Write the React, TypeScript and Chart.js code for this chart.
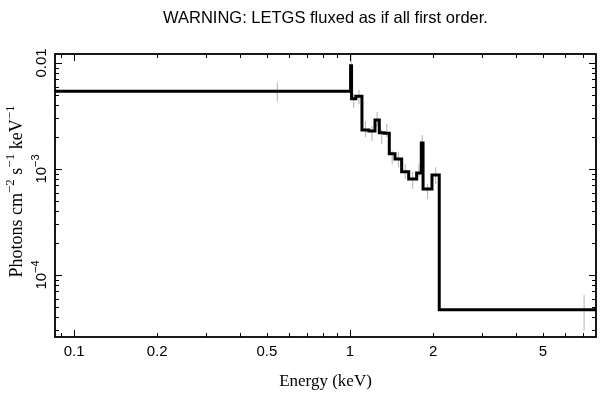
import React, { useEffect, useRef } from "react";
import { Chart, registerables } from "chart.js";

Chart.register(...registerables);

// ---- data (keV bin edges, flux in Photons cm^-2 s^-1 keV^-1) ----
const binEdges = [
  0.0853, 1.005, 1.013, 1.05, 1.105, 1.17, 1.232, 1.277, 1.33, 1.388, 1.456,
  1.539, 1.632, 1.744, 1.813, 1.84, 1.982, 2.106, 12.0,
];
const flux = [
  5.4e-3, 9.4e-3, 4.6e-3, 4.85e-3, 2.33e-3, 2.28e-3, 2.9e-3, 2.2e-3, 2.17e-3,
  1.39e-3, 1.24e-3, 9.4e-4, 8.05e-4, 9.16e-4, 1.76e-3, 6.47e-4, 8.78e-4, 4.71e-5,
];
const fluxLow = [
  4.31e-3, 7.4e-3, 3.74e-3, 4.1e-3, 2.0e-3, 1.84e-3, 2.49e-3, 1.72e-3, 2.0e-3,
  1.11e-3, 1.04e-3, 8.05e-4, 6.5e-4, 8.4e-4, 1.48e-3, 5.22e-4, 7.2e-4, 3.0e-5,
];
const fluxHigh = [
  6.58e-3, 1.3e-2, 5.18e-3, 5.56e-3, 2.84e-3, 2.55e-3, 3.45e-3, 2.38e-3, 2.66e-3,
  1.48e-3, 1.45e-3, 1.11e-3, 9.4e-4, 1.11e-3, 2.09e-3, 7.21e-4, 1.04e-3, 6.5e-5,
];

const xTickValues = [0.1, 0.2, 0.5, 1, 2, 5];
const xTickLabels = ["0.1", "0.2", "0.5", "1", "2", "5"];
const yTickValues = [0.01, 1e-3, 1e-4];
const yTickLabels: { t: string; sup?: boolean }[][] = [
  [{ t: "0.01" }],
  [{ t: "10" }, { t: "\u22123", sup: true }],
  [{ t: "10" }, { t: "\u22124", sup: true }],
];

const titleText = "WARNING: LETGS fluxed as if all first order.";
const xTitle = "Energy (keV)";
const yTitle: { t: string; sup?: boolean }[] = [
  { t: "Photons cm" },
  { t: "\u22122", sup: true },
  { t: " s" },
  { t: "\u22121", sup: true },
  { t: " keV" },
  { t: "\u22121", sup: true },
];

const X_MIN = 0.0853;
const X_MAX = 7.79;
const Y_MIN = 2.6e-5;
const Y_MAX = 0.01216;

const SANS = '"Liberation Sans", Arial, Helvetica, sans-serif';
const SERIF = '"Liberation Serif", "Times New Roman", Times, serif';

function drawRich(
  ctx: CanvasRenderingContext2D,
  segs: { t: string; sup?: boolean }[],
  cx: number,
  cy: number,
  size: number,
  family: string,
  rotate: boolean
) {
  const supSize = Math.round(size * 0.72);
  ctx.save();
  ctx.translate(cx, cy);
  if (rotate) ctx.rotate(-Math.PI / 2);
  ctx.textBaseline = "middle";
  ctx.textAlign = "left";
  let total = 0;
  const widths = segs.map((s) => {
    ctx.font = `${s.sup ? supSize : size}px ${family}`;
    const w = ctx.measureText(s.t).width;
    total += w;
    return w;
  });
  let x = -total / 2;
  segs.forEach((s, i) => {
    ctx.font = `${s.sup ? supSize : size}px ${family}`;
    ctx.fillText(s.t, x, s.sup ? -size * 0.38 : 0);
    x += widths[i];
  });
  ctx.restore();
}

const framePlugin = {
  id: "frame",
  afterDraw(chart: any) {
    const { ctx, chartArea: a, scales } = chart;
    const xs = scales.x;
    const ys = scales.y;
    ctx.save();
    ctx.strokeStyle = "#000";
    ctx.fillStyle = "#000";
    ctx.lineWidth = 1;
    // x ticks (top & bottom, inward)
    for (let k = -2; k <= 1; k++) {
      for (let m = 1; m <= 9; m++) {
        const v = m * Math.pow(10, k);
        if (v < X_MIN || v > X_MAX) continue;
        const px = Math.round(xs.getPixelForValue(v)) + 0.5;
        const len = m === 1 ? 7 : 4;
        ctx.beginPath();
        ctx.moveTo(px, a.bottom);
        ctx.lineTo(px, a.bottom - len);
        ctx.moveTo(px, a.top);
        ctx.lineTo(px, a.top + len);
        ctx.stroke();
      }
    }
    // y ticks (left & right, inward)
    for (let k = -5; k <= -1; k++) {
      for (let m = 1; m <= 9; m++) {
        const v = m * Math.pow(10, k);
        if (v < Y_MIN || v > Y_MAX) continue;
        const py = Math.round(ys.getPixelForValue(v)) + 0.5;
        const len = m === 1 ? 7 : 4;
        ctx.beginPath();
        ctx.moveTo(a.left, py);
        ctx.lineTo(a.left + len, py);
        ctx.moveTo(a.right, py);
        ctx.lineTo(a.right - len, py);
        ctx.stroke();
      }
    }
    // frame
    ctx.lineWidth = 1.8;
    ctx.strokeRect(a.left, a.top, a.right - a.left, a.bottom - a.top);

    // x tick labels
    ctx.font = `15px ${SANS}`;
    ctx.textAlign = "center";
    ctx.textBaseline = "middle";
    xTickValues.forEach((v, i) => {
      ctx.fillText(xTickLabels[i], xs.getPixelForValue(v), a.bottom + 15);
    });
    // y tick labels (rotated)
    yTickValues.forEach((v, i) => {
      drawRich(ctx, yTickLabels[i], a.left - 13, ys.getPixelForValue(v), 15, SANS, true);
    });
    // titles
    ctx.font = `16.5px ${SANS}`;
    ctx.textAlign = "center";
    ctx.textBaseline = "middle";
    ctx.fillText(titleText, (a.left + a.right) / 2, 18);
    ctx.font = `17px ${SERIF}`;
    ctx.fillText(xTitle, (a.left + a.right) / 2, a.bottom + 45);
    drawRich(ctx, yTitle, 17, (a.top + a.bottom) / 2 - 4, 18, SERIF, true);
    ctx.restore();
  },
};

export default function App() {
  const ref = useRef<HTMLCanvasElement | null>(null);
  useEffect(() => {
    if (!ref.current) return;
    const stepData = binEdges.slice(0, -1).map((lo, i) => ({ x: lo, y: flux[i] }));
    stepData.push({ x: binEdges[binEdges.length - 1], y: flux[flux.length - 1] });
    const errData: { x: number; y: number | null }[] = [];
    flux.forEach((_, i) => {
      const c = (binEdges[i] + binEdges[i + 1]) / 2;
      errData.push({ x: c, y: fluxLow[i] });
      errData.push({ x: c, y: fluxHigh[i] });
      errData.push({ x: c, y: null });
    });
    const chart = new Chart(ref.current, {
      type: "line",
      data: {
        datasets: [
          {
            data: stepData,
            stepped: "before",
            borderColor: "#000",
            borderWidth: 3,
            pointRadius: 0,
            fill: false,
            order: 0,
          },
          {
            data: errData as any,
            borderColor: "#b0b0b0",
            borderWidth: 1,
            pointRadius: 0,
            spanGaps: false,
            fill: false,
            order: 1,
          },
        ],
      },
      options: {
        animation: false,
        responsive: true,
        maintainAspectRatio: false,
        layout: { padding: { top: 54, right: 13, left: 0, bottom: 0 } },
        plugins: {
          legend: { display: false },
          tooltip: { enabled: false },
          title: { display: false },
        },
        scales: {
          x: {
            type: "logarithmic",
            min: X_MIN,
            max: X_MAX,
            ticks: { display: false },
            grid: { display: false },
            border: { display: false },
            afterFit: (s: any) => {
              s.height = 62;
            },
          },
          y: {
            type: "logarithmic",
            min: Y_MIN,
            max: Y_MAX,
            ticks: { display: false },
            grid: { display: false },
            border: { display: false },
            afterFit: (s: any) => {
              s.width = 55;
            },
          },
        },
      },
      plugins: [framePlugin],
    });
    return () => chart.destroy();
  }, []);
  return (
    <div
      style={{
        position: "fixed",
        left: 0,
        top: 0,
        width: 609,
        height: 399,
        background: "#fff",
      }}
    >
      <canvas ref={ref} />
    </div>
  );
}
